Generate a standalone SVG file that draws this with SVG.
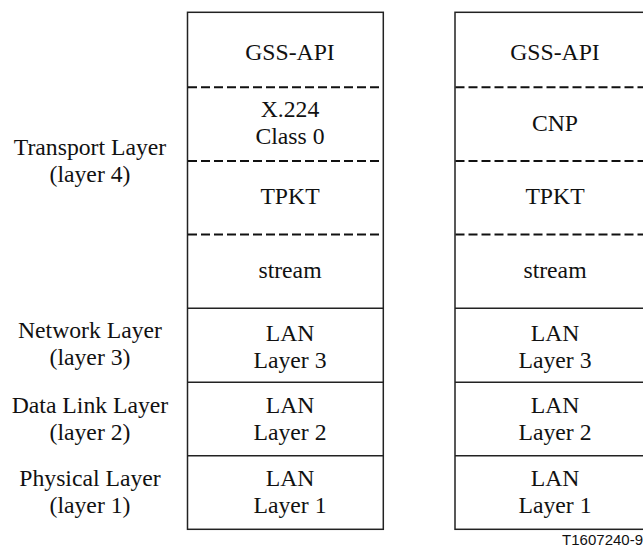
<svg xmlns="http://www.w3.org/2000/svg" width="643" height="551" viewBox="0 0 643 551">
<style>
.t{font-family:"Liberation Serif","Times New Roman",serif;font-size:23.7px;fill:#111;text-anchor:middle}
.box{fill:none;stroke:#222;stroke-width:1.5}
.sol{stroke:#222;stroke-width:1.5}
.dash{stroke:#111;stroke-width:2;stroke-dasharray:9 4}
.id{font-family:"Liberation Sans",Arial,sans-serif;font-size:15px;fill:#111;text-anchor:end}
</style>
<rect width="643" height="551" fill="#fff"/>
<g id="labels">
<text class="t" x="90" y="155">Transport Layer</text>
<text class="t" x="90" y="182">(layer 4)</text>
<text class="t" x="90" y="338">Network Layer</text>
<text class="t" x="90" y="365">(layer 3)</text>
<text class="t" x="90" y="413">Data Link Layer</text>
<text class="t" x="90" y="440">(layer 2)</text>
<text class="t" x="90" y="486">Physical Layer</text>
<text class="t" x="90" y="513">(layer 1)</text>
</g>
<g id="stack-left">
<rect class="box" x="187.5" y="12.3" width="195.8" height="517"/>
<line class="dash" x1="188" y1="87.3" x2="383" y2="87.3"/>
<line class="dash" x1="188" y1="161" x2="383" y2="161"/>
<line class="dash" x1="188" y1="234.5" x2="383" y2="234.5"/>
<line class="sol" x1="187.5" y1="308.3" x2="383.3" y2="308.3"/>
<line class="sol" x1="187.5" y1="382.3" x2="383.3" y2="382.3"/>
<line class="sol" x1="187.5" y1="455.7" x2="383.3" y2="455.7"/>
<text class="t" x="290" y="60">GSS-API</text>
<text class="t" x="290" y="117">X.224</text>
<text class="t" x="290" y="144">Class 0</text>
<text class="t" x="290" y="204">TPKT</text>
<text class="t" x="290" y="278">stream</text>
<text class="t" x="290" y="341">LAN</text>
<text class="t" x="290" y="368">Layer 3</text>
<text class="t" x="290" y="413">LAN</text>
<text class="t" x="290" y="440">Layer 2</text>
<text class="t" x="290" y="486">LAN</text>
<text class="t" x="290" y="513">Layer 1</text>
</g>
<g id="stack-right">
<rect class="box" x="455" y="12.3" width="200" height="517"/>
<line class="dash" x1="455.5" y1="87.3" x2="643" y2="87.3"/>
<line class="dash" x1="455.5" y1="161" x2="643" y2="161"/>
<line class="dash" x1="455.5" y1="234.5" x2="643" y2="234.5"/>
<line class="sol" x1="455" y1="308.3" x2="655" y2="308.3"/>
<line class="sol" x1="455" y1="382.3" x2="655" y2="382.3"/>
<line class="sol" x1="455" y1="455.7" x2="655" y2="455.7"/>
<text class="t" x="555" y="60">GSS-API</text>
<text class="t" x="555" y="131">CNP</text>
<text class="t" x="555" y="204">TPKT</text>
<text class="t" x="555" y="278">stream</text>
<text class="t" x="555" y="341">LAN</text>
<text class="t" x="555" y="368">Layer 3</text>
<text class="t" x="555" y="413">LAN</text>
<text class="t" x="555" y="440">Layer 2</text>
<text class="t" x="555" y="486">LAN</text>
<text class="t" x="555" y="513">Layer 1</text>
</g>
<text class="id" x="643" y="545">T1607240-9</text>
</svg>
